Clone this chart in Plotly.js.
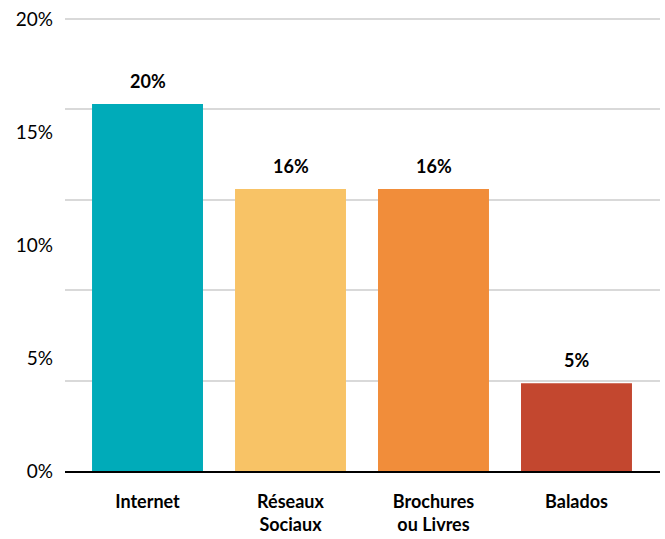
<!DOCTYPE html>
<html>
<head>
<meta charset="utf-8">
<script src="https://cdn.plot.ly/plotly-3.0.1.min.js"></script>
<style>html,body{margin:0;padding:0;background:#fff;}#chart{width:665px;height:539px;}</style>
</head>
<body>
<div id="chart"></div>
<script>
var categories = ['Internet', 'Réseaux<br>Sociaux', 'Brochures<br>ou Livres', 'Balados'];
var values = [20.3, 15.6, 15.6, 4.86];
var valueLabels = ['20%', '16%', '16%', '5%'];
var barColors = ['#00ABB9', '#F8C366', '#F18D3A', '#C3472F'];
var gridVals = [0, 5, 10, 15, 20, 25];
var tickLabelVals = [0, 5, 10, 15, 20];
var tickLabelText = ['0%', '5%', '10%', '15%', '20%'];

var font = 'Lato, "Open Sans", sans-serif';

var traces = [
  {
    type: 'bar',
    x: categories,
    y: values,
    marker: {color: barColors},
    width: 0.776,
    hoverinfo: 'none'
  },
  {
    type: 'scatter',
    x: [],
    y: [],
    yaxis: 'y2',
    showlegend: false,
    hoverinfo: 'none'
  }
];

var annotations = categories.map(function (c, i) {
  return {
    x: c, y: values[i], xref: 'x', yref: 'y',
    text: '<b>' + valueLabels[i] + '</b>',
    showarrow: false, yanchor: 'bottom', yshift: 10,
    font: {family: font, size: 18, color: '#000'}
  };
});

var layout = {
  width: 665, height: 539,
  margin: {l: 65, r: 5, t: 18, b: 68},
  paper_bgcolor: '#fff', plot_bgcolor: '#fff',
  showlegend: false,
  xaxis: {
    type: 'category',
    range: [-0.577, 3.584],
    showgrid: false,
    showline: true, linecolor: '#000', linewidth: 2,
    ticks: '',
    ticklabelstandoff: 13,
    tickfont: {family: font, size: 18, color: '#000', weight: 'bold'},
    fixedrange: true
  },
  yaxis: {
    range: [0, 25.06],
    tickvals: gridVals,
    showticklabels: false,
    showgrid: true, gridcolor: '#D9D9D9', gridwidth: 2,
    zeroline: false, showline: false, ticks: '',
    fixedrange: true
  },
  yaxis2: {
    overlaying: 'y',
    side: 'left',
    range: [0, 20.048],
    tickvals: tickLabelVals,
    ticktext: tickLabelText,
    showgrid: false, zeroline: false, showline: false, ticks: '',
    ticklabelstandoff: 11,
    tickfont: {family: font, size: 19, color: '#000'},
    fixedrange: true
  },
  annotations: annotations
};

Plotly.newPlot('chart', traces, layout, {displayModeBar: false, staticPlot: true});
</script>
</body>
</html>
